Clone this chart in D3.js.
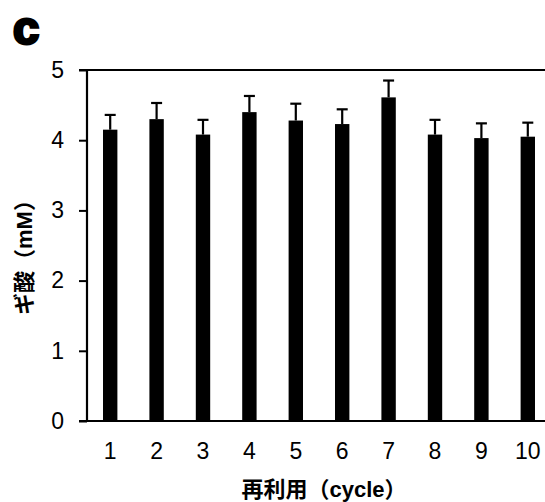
<!DOCTYPE html>
<html>
<head>
<meta charset="utf-8">
<script src="https://cdn.jsdelivr.net/npm/d3@7"></script>
<style>
  body { margin: 0; background: #fff; }
  text { font-family: "Liberation Sans", Arial, "Noto Sans CJK JP", sans-serif; }
</style>
</head>
<body>
<div id="chart"></div>
<script>
// data
var cycles = ["1", "2", "3", "4", "5", "6", "7", "8", "9", "10"];
var formicAcid = [4.15, 4.30, 4.08, 4.40, 4.28, 4.23, 4.61, 4.08, 4.03, 4.05];
var errors = [0.21, 0.23, 0.21, 0.23, 0.24, 0.21, 0.24, 0.21, 0.21, 0.20];
var yTicks = [0, 1, 2, 3, 4, 5];

var width = 545, height = 502;
var margin = { top: 70, left: 87, bottom: 81 };

var svg = d3.select("#chart")
    .append("svg")
    .attr("width", width)
    .attr("height", height);

var x = d3.scaleBand()
    .domain(cycles)
    .range([margin.left, margin.left + 464])
    .paddingInner(0.69)
    .paddingOuter(0.345);

var y = d3.scaleLinear()
    .domain([0, 5])
    .range([height - margin.bottom, margin.top]);

// bars
svg.append("g")
    .selectAll("rect")
    .data(formicAcid)
    .join("rect")
    .attr("x", (d, i) => x(cycles[i]))
    .attr("y", d => y(d))
    .attr("width", x.bandwidth())
    .attr("height", d => y(0) - y(d))
    .attr("fill", "#000");

// error bars (upper only)
var eb = svg.append("g")
    .attr("stroke", "#000")
    .attr("stroke-width", 2.2);
formicAcid.forEach((d, i) => {
    var cx = x(cycles[i]) + x.bandwidth() / 2;
    eb.append("line")
        .attr("x1", cx).attr("x2", cx)
        .attr("y1", y(d)).attr("y2", y(d + errors[i]));
    eb.append("line")
        .attr("x1", cx - 5.5).attr("x2", cx + 5.5)
        .attr("y1", y(d + errors[i])).attr("y2", y(d + errors[i]));
});

// y axis
var yAxis = svg.append("g")
    .attr("transform", "translate(" + margin.left + ",0)")
    .call(d3.axisLeft(y).tickValues(yTicks).tickFormat(d3.format("d")).tickSize(8).tickPadding(15));
yAxis.select(".domain").remove();
yAxis.selectAll("line").attr("stroke", "#000").attr("stroke-width", 2);
yAxis.selectAll("text")
    .attr("font-size", 23)
    .attr("fill", "#000");

// frame lines: left, top, bottom
svg.append("line")
    .attr("x1", margin.left).attr("x2", margin.left)
    .attr("y1", y(5)).attr("y2", y(0))
    .attr("stroke", "#000").attr("stroke-width", 2.2);
svg.append("line")
    .attr("x1", margin.left - 8).attr("x2", width)
    .attr("y1", y(5)).attr("y2", y(5))
    .attr("stroke", "#000").attr("stroke-width", 2.2);

// x axis
var xAxis = svg.append("g")
    .attr("transform", "translate(0," + y(0) + ")")
    .call(d3.axisBottom(x).tickSize(0).tickPadding(22));
xAxis.select(".domain").remove();
xAxis.selectAll("text")
    .attr("font-size", 23)
    .attr("fill", "#000");
svg.append("line")
    .attr("x1", margin.left - 8).attr("x2", width)
    .attr("y1", y(0)).attr("y2", y(0))
    .attr("stroke", "#000").attr("stroke-width", 2.2);

// axis titles
svg.append("text")
    .attr("x", 324)
    .attr("y", 497)
    .attr("text-anchor", "middle")
    .attr("font-size", 22)
    .attr("font-weight", "bold")
    .text("再利用（cycle）");

svg.append("text")
    .attr("transform", "translate(32,252) rotate(-90)")
    .attr("text-anchor", "middle")
    .attr("font-size", 22)
    .attr("font-weight", "bold")
    .text("ギ酸（mM）");

// panel letter
svg.append("text")
    .attr("x", 13)
    .attr("y", 44)
    .attr("font-size", 47)
    .attr("font-weight", "bold")
    .attr("stroke", "#000")
    .attr("stroke-width", 3)
    .text("c");
</script>
</body>
</html>
